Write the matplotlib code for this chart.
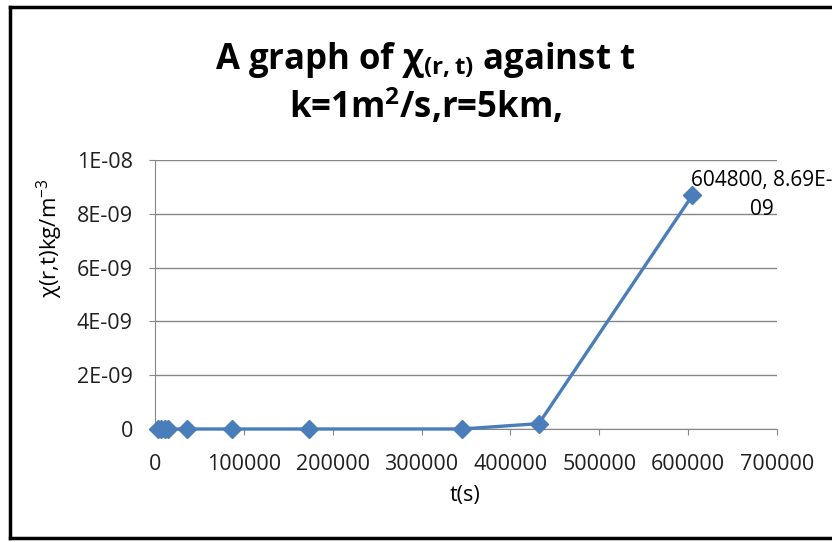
import numpy as np
import matplotlib.pyplot as plt
from matplotlib.lines import Line2D

# data
t_s = [3600, 7200, 10800, 14400, 36000, 86400, 172800, 345600, 432000, 604800]
chi = [0.0, 0.0, 0.0, 0.0, 0.0, 0.0, 0.0, 1e-12, 2.0e-10, 8.69e-9]
x_ticks = [0, 100000, 200000, 300000, 400000, 500000, 600000, 700000]
y_ticks = [0, 2e-9, 4e-9, 6e-9, 8e-9, 1e-8]
y_tick_labels = ["0", "2E-09", "4E-09", "6E-09", "8E-09", "1E-08"]

plt.rcParams['font.family'] = ['Open Sans', 'DejaVu Sans']
plt.rcParams['mathtext.fontset'] = 'custom'
plt.rcParams['mathtext.rm'] = 'Open Sans'
plt.rcParams['mathtext.it'] = 'Open Sans'
plt.rcParams['mathtext.bf'] = 'Open Sans:bold'

fig = plt.figure(figsize=(8.32, 5.42), dpi=100)
ax = fig.add_axes([0.1863, 0.2085, 0.7476, 0.4963])

# line with diamond markers
blue = '#4A7EBB'
ax.plot(t_s, chi, color=blue, lw=2.4, marker='D', markersize=9,
        markerfacecolor=blue, markeredgecolor=blue, clip_on=False, zorder=3)

ax.set_xlim(0, 700000)
ax.set_ylim(0, 1e-8)
ax.set_xticks(x_ticks)
ax.set_xticklabels([str(v) for v in x_ticks])
ax.set_yticks(y_ticks)
ax.set_yticklabels(y_tick_labels)
ax.tick_params(labelsize=15.5, colors='#868686', labelcolor='#202020', length=4)
ax.tick_params(axis='x', pad=14)
ax.tick_params(axis='y', pad=12)

ax.yaxis.grid(True, color='#868686', lw=1)
ax.set_axisbelow(True)
for side in ['top', 'right']:
    ax.spines[side].set_visible(False)
for side in ['left', 'bottom']:
    ax.spines[side].set_color('#868686')

# axis titles
fig.text(465 / 832, 47 / 542, 't(s)', ha='center', va='center', fontsize=15.5)
fig.text(50 / 832, 304 / 542, r'χ(r,t)kg/m$^{\mathrm{-3}}$', ha='center', va='center',
         rotation=90, fontsize=16)

# data label on the last point
ax.annotate('604800, 8.69E-\n09', xy=(t_s[-1], chi[-1]), xytext=(762, 372),
            xycoords='data', textcoords='figure pixels', fontsize=15,
            ha='center', va='top', linespacing=1.5, annotation_clip=False)

# title
fig.text(0.511, 0.926, r'A graph of χ$_{\mathbf{(r,t)}}$ against t',
         ha='center', va='top', fontsize=25, fontweight='bold')
fig.text(0.511, 0.84, r'k=1m$^{\mathbf{2}}$/s,r=5km,',
         ha='center', va='top', fontsize=25, fontweight='bold')

# outer frame (right side is cut off in the reference)
fig.add_artist(Line2D([10 / 832, 10 / 832], [4 / 542, 535 / 542], transform=fig.transFigure, color='black', lw=2.5))
fig.add_artist(Line2D([10 / 832, 1.0], [535 / 542, 535 / 542], transform=fig.transFigure, color='black', lw=2.5))
fig.add_artist(Line2D([10 / 832, 1.0], [4 / 542, 4 / 542], transform=fig.transFigure, color='black', lw=2.5))

plt.savefig('out.png', dpi=100)
